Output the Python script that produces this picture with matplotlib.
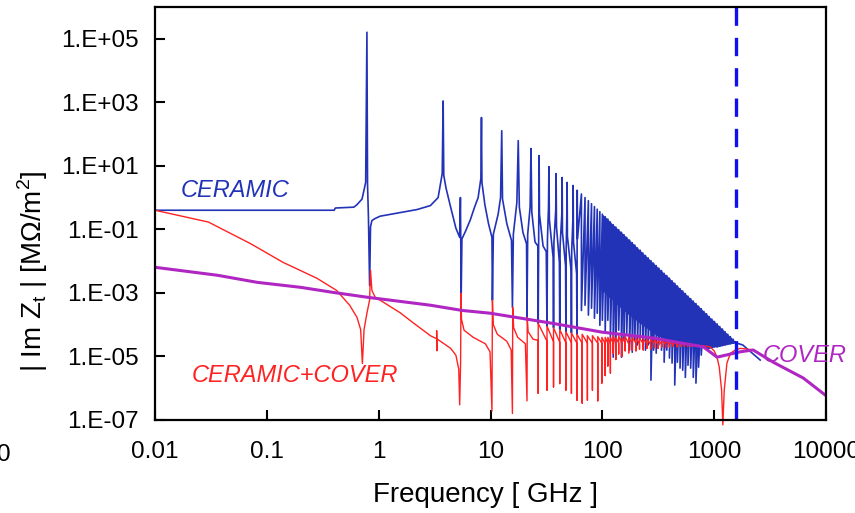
import matplotlib
matplotlib.use('Agg')
import matplotlib.pyplot as plt
import numpy as np
from matplotlib.ticker import FuncFormatter

plt.rcParams['font.family'] = ['Liberation Sans', 'DejaVu Sans']
plt.rcParams['mathtext.fontset'] = 'custom'
plt.rcParams['mathtext.rm'] = 'Liberation Sans'

# ---------------- CERAMIC (blue) ----------------
# resolved low frequency part: frequency [GHz], |Im Zt| [MOhm/m2]
blue_f = [0.01, 0.40, 0.41, 0.60, 0.64, 0.71, 0.765, 0.785, 0.795, 0.81, 0.83, 0.845, 0.87, 0.93,
          1.03, 1.5, 2.2, 2.9, 3.4, 3.7, 3.77, 3.82, 4.0, 4.4, 4.9, 5.3, 5.38, 5.42, 5.47, 5.55,
          6.0, 6.6, 7.2, 7.75, 8.2, 8.3, 8.38, 8.9, 9.6, 10.3, 10.4, 10.6, 11.7, 12.3, 12.6, 12.8,
          14.0, 15.4, 15.7, 16.0, 17.2, 17.7, 18.1, 19.5, 21.0, 21.2, 21.5, 22.6, 23.0, 23.4,
          25.0, 26.5, 26.7, 27.0, 27.2, 27.4, 29.5, 31.5, 32.0, 32.3, 33.0, 33.3, 33.6,
          36.3, 36.6, 36.9, 38.3, 38.6, 38.9, 41.3, 41.6, 41.9, 43.4, 43.7, 44.0,
          46.9, 47.2, 47.5, 48.1, 48.4, 48.7, 52.6, 52.9, 53.2, 54.5, 54.8, 55.2,
          58.9, 59.3, 59.6, 60.0]
blue_v = [0.40, 0.40, 0.47, 0.50, 0.60, 0.90, 3.0, 1.6e5, 2.5, 0.24, 1.7e-3, 0.12, 0.19, 0.22,
          0.26, 0.33, 0.42, 0.56, 1.0, 5.7, 1.1e3, 5.0, 2.0, 0.5, 0.11, 0.056, 1.0, 0.056, 9.7e-4, 0.05,
          0.09, 0.2, 0.5, 1.0, 4.0, 330, 3.0, 0.6, 0.15, 0.056, 5.9e-4, 0.07, 0.3, 1.0, 127, 0.9,
          0.15, 0.045, 3.5e-4, 0.07, 0.7, 62, 0.5, 0.08, 0.035, 1.7e-4, 0.07, 0.5, 35, 0.35,
          0.04, 0.03, 1.1e-4, 0.4, 21, 0.3, 0.03, 0.02, 9e-5, 0.05, 0.5, 9.4, 0.2,
          0.013, 8e-5, 0.04, 0.4, 5.7, 0.12, 0.009, 7e-5, 0.03, 0.3, 4.3, 0.08,
          0.007, 6e-5, 0.025, 0.25, 3.0, 0.06, 0.005, 5.5e-5, 0.02, 0.2, 2.4, 0.04,
          0.004, 5e-5, 1.7, 0.05]

# dense resonance region: resonance frequency, peak value, dip value,
# and lower edge of the visually solid band
dense_f = [65, 70, 75, 80, 85, 90, 95, 100, 106, 112, 118, 125, 132, 140, 148, 156, 165, 175,
           185, 195, 206, 218, 230, 243, 257, 272, 287, 303, 320, 338, 357, 377, 398, 420, 444,
           469, 495, 523, 552, 583, 616, 650, 687, 725, 766, 809, 854, 902, 953, 1006, 1063,
           1122, 1185, 1252, 1322, 1396, 1475, 1557]
dense_top = [1.3, 1.0, 0.80, 0.64, 0.52, 0.43, 0.36, 0.30, 0.25, 0.21, 0.17, 0.14, 0.118, 0.097,
             0.081, 0.068, 0.056, 0.046, 0.038, 0.032, 0.026, 0.022, 0.018, 0.015, 0.0126,
             0.0103, 0.0086, 0.0072, 0.0060, 0.0050, 0.0041, 0.0035, 0.0029, 0.0024, 0.0020,
             0.00165, 0.00137, 0.00115, 9.5e-4, 7.9e-4, 6.6e-4, 5.5e-4, 4.6e-4, 3.8e-4, 3.2e-4,
             2.6e-4, 2.2e-4, 1.8e-4, 1.5e-4, 1.26e-4, 1.05e-4, 8.7e-5, 7.3e-5, 6.0e-5, 5.0e-5,
             4.2e-5, 3.5e-5, 2.9e-5]
dense_low = [2.8e-4, 4.1e-4, 2.0e-4, 3.3e-4, 1.6e-4, 2.3e-4, 9.6e-5, 1.38e-4, 5.8e-5, 1.38e-4,
             3.8e-5, 9.5e-6, 2.6e-5, 6.7e-5, 9.5e-6, 3.3e-5, 4.7e-5, 1.58e-5, 1.36e-5, 3.3e-5,
             2.3e-5, 3.8e-5, 2.0e-5, 1.58e-5, 2.3e-5, 1.8e-6, 1.58e-5, 1.27e-5, 2.3e-5, 1.58e-5,
             6.6e-6, 1.58e-5, 8.9e-6, 6.2e-6, 1.26e-6, 6.6e-6, 4.3e-6, 3.7e-6, 2.2e-6, 5.3e-6,
             4.3e-6, 2.2e-6, 1.45e-6, 4.6e-6, 1.1e-5, 2.0e-5, 1.8e-5, 1.8e-5, 1.9e-5, 2.0e-5,
             2.0e-5, 2.1e-5, 2.2e-5, 2.3e-5, 2.4e-5, 2.5e-5, 2.6e-5, 2.7e-5]
dense_mid = [5.1e-3, 4.1e-3, 3.3e-3, 2.9e-3, 2.3e-3, 1.9e-3, 1.5e-3, 1.2e-3, 9.7e-4, 7.8e-4,
             6.8e-4, 5.9e-4, 4.7e-4, 3.8e-4, 3.3e-4, 2.8e-4, 2.3e-4, 2.0e-4, 1.7e-4, 1.5e-4,
             1.28e-4, 1.1e-4, 9.6e-5, 8.3e-5, 7.2e-5, 6.2e-5, 5.4e-5, 4.7e-5, 4.3e-5, 4.0e-5,
             3.8e-5, 3.5e-5, 3.3e-5, 3.0e-5, 2.8e-5, 2.6e-5, 2.6e-5, 2.4e-5, 2.4e-5, 2.3e-5,
             2.3e-5, 2.1e-5, 2.1e-5, 2.0e-5, 2.0e-5, 2.0e-5, 1.8e-5, 1.8e-5, 1.9e-5, 2.0e-5,
             2.0e-5, 2.1e-5, 2.2e-5, 2.3e-5, 2.4e-5, 2.5e-5, 2.6e-5, 2.7e-5]
blue_tail_f = [1800, 2580]
blue_tail_v = [2.3e-5, 7.7e-6]

# ---------------- CERAMIC+COVER (red) ----------------
red_f = [0.01, 0.03, 0.071, 0.14, 0.28, 0.42, 0.55, 0.64, 0.69, 0.715, 0.74, 0.785, 0.83, 0.845,
         0.87, 0.93, 1.03, 1.55, 2.0, 2.9, 3.3, 3.3, 3.32, 3.35, 4.4, 4.9, 5.2, 5.3, 5.4, 5.45,
         5.5, 5.8, 7.0, 9.0, 9.9, 10.3, 10.4, 10.6, 11.5, 14.0, 15.3, 15.7, 15.8, 16.1, 17.5,
         20.5, 21.2, 21.3, 21.7, 24.0]
red_v = [0.40, 0.17, 0.036, 0.0091, 0.0029, 0.0012, 4.1e-4, 1.7e-4, 7e-5, 6e-6, 7e-5, 2.3e-4,
         6e-4, 5.2e-3, 1.2e-3, 7.3e-4, 5.9e-4, 2.4e-4, 1.2e-4, 4.5e-5, 3.6e-5, 6.5e-5, 1.5e-5,
         3.5e-5, 1.8e-5, 1.1e-5, 4e-6, 3e-7, 6e-6, 9.7e-4, 1.5e-4, 6.7e-5, 4e-5, 2.5e-5, 1.4e-5,
         1.9e-7, 5.9e-4, 1e-4, 5e-5, 3e-5, 1.6e-5, 1.6e-7, 3.5e-4, 8e-5, 4e-5, 2.5e-5, 4e-7,
         1.7e-4, 6e-5, 3.5e-5]

# anti-resonances: frequency, level before, dip, spike top
anti_f = [26.7, 32.0, 36.6, 41.6, 47.2, 52.9, 59.3, 66, 73.5, 81.5, 91, 99, 106, 112, 118, 125,
          132, 140, 150, 160, 172, 185, 200, 215, 232, 250, 270, 292, 315, 340, 368, 398, 430,
          465, 500, 540, 580, 620]
anti_base = [3.2e-5, 3.0e-5, 2.9e-5, 2.8e-5, 2.7e-5, 2.7e-5, 2.6e-5, 2.6e-5, 2.6e-5, 2.6e-5,
             2.6e-5, 2.6e-5, 2.5e-5, 2.6e-5, 2.5e-5, 2.6e-5, 2.5e-5, 2.6e-5, 2.5e-5, 2.6e-5,
             2.5e-5, 2.5e-5, 2.6e-5, 2.5e-5, 2.5e-5, 2.5e-5, 2.4e-5, 2.5e-5, 2.4e-5, 2.4e-5,
             2.4e-5, 2.4e-5, 2.3e-5, 2.4e-5, 2.3e-5, 2.3e-5, 2.3e-5, 2.3e-5]
anti_dip = [6.9e-7, 8.7e-7, 1.1e-6, 1.4e-6, 8.7e-7, 6.9e-7, 4.2e-7, 3.4e-7, 4.2e-7, 8.7e-7,
            4e-7, 1.45e-6, 2.5e-6, 5e-6, 3e-6, 1.27e-5, 8e-6, 1.2e-5, 1e-5, 1.5e-5, 1.3e-5,
            1.6e-5, 1.5e-5, 1.7e-5, 1.6e-5, 1.8e-5, 1.7e-5, 1.9e-5, 1.8e-5, 2.0e-5, 1.9e-5,
            2.0e-5, 2.1e-5, 2.0e-5, 2.1e-5, 2.1e-5, 2.1e-5, 2.1e-5]
anti_top = [1.1e-4, 9e-5, 8e-5, 7e-5, 6e-5, 5.5e-5, 5e-5, 5e-5, 4.5e-5, 4.5e-5, 4.2e-5, 4e-5,
            4e-5, 4e-5, 4e-5, 4.5e-5, 4e-5, 4.5e-5, 4e-5, 4.2e-5, 4e-5, 4e-5, 3.8e-5, 3.8e-5,
            3.6e-5, 3.6e-5, 3.5e-5, 3.4e-5, 3.3e-5, 3.2e-5, 3.1e-5, 3.0e-5, 2.9e-5, 2.8e-5,
            2.7e-5, 2.6e-5, 2.5e-5, 2.4e-5]
red_tail_f = [650, 750, 850, 920, 1000, 1060, 1110, 1165, 1195, 1230, 1300, 1400, 1550, 1710,
              1970, 2230, 3370, 6250, 9840]
red_tail_v = [2.3e-5, 2.2e-5, 2.1e-5, 2.0e-5, 1.5e-5, 9.5e-6, 4.6e-6, 8.7e-7, 7e-8, 8.7e-7,
              6.2e-6, 1.27e-5, 1.6e-5, 1.8e-5, 1.7e-5, 1.6e-5, 6.6e-6, 2.1e-6, 6.1e-7]

# ---------------- COVER (magenta) ----------------
cover_f = [0.01, 0.036, 0.082, 0.2, 0.39, 0.79, 2.9, 5.6, 9.9, 36, 100, 285, 800, 1060, 1710,
           2230, 3370, 6250, 9840]
cover_v = [6.4e-3, 3.6e-3, 2.15e-3, 1.5e-3, 1.04e-3, 7.3e-4, 4.1e-4, 2.8e-4, 2.3e-4, 1.1e-4,
           5.8e-5, 3.8e-5, 2.0e-5, 9.5e-6, 1.4e-5, 1.6e-5, 6.6e-6, 2.1e-6, 6.1e-7]

# cut-off frequency marker
cutoff_ghz = 1570

x_ticks = [0.01, 0.1, 1, 10, 100, 1000, 10000]
x_labels = ['0.01', '0.1', '1', '10', '100', '1000', '10000']
y_ticks = [1e-7, 1e-5, 1e-3, 1e-1, 1e1, 1e3, 1e5]

blue_color = '#2233b8'
red_color = '#ff2222'
cover_color = '#b026c2'

# Join the pieces of each curve
blue_x = np.concatenate([blue_f, np.repeat(dense_f, 2), blue_tail_f])
blue_y = np.concatenate([blue_v, np.column_stack([dense_top, dense_low]).ravel(), blue_tail_v])
red_x = np.concatenate([red_f, np.repeat(anti_f, 3), red_tail_f])
red_y = np.concatenate([red_v, np.column_stack([anti_base, anti_dip, anti_top]).ravel(), red_tail_v])

fig = plt.figure(figsize=(8.55, 5.13), dpi=100)
ax = fig.add_axes([0.1813, 0.1813, 0.7848, 0.8051])

ax.plot(blue_x, blue_y, color=blue_color, lw=1.2)
# unresolved oscillations above 100 GHz look like a solid band
ax.fill_between(dense_f[7:], dense_mid[7:], dense_top[7:], color=blue_color, lw=0)
ax.plot(red_x, red_y, color=red_color, lw=1.0, clip_on=False)
ax.plot(cover_f, cover_v, color=cover_color, lw=2.2)
# dashed line drawn top to bottom so the dash pattern starts at the top
ax.plot([cutoff_ghz, cutoff_ghz], [1e6, 1e-7], color='#1010ee', lw=2.4, dashes=(5.5, 3.6))

ax.set_xscale('log')
ax.set_yscale('log')
ax.set_xlim(0.01, 10000)
ax.set_ylim(1e-7, 1e6)
ax.set_xticks(x_ticks, x_labels)
ax.set_yticks(y_ticks)
ax.yaxis.set_major_formatter(FuncFormatter(lambda v, pos: '1.E%+03d' % round(np.log10(v))))
ax.minorticks_off()
ax.tick_params(direction='in', length=7, width=1.5, labelsize=17.5, pad=12,
               top=False, right=False)
ax.tick_params(axis='x', pad=15)
for s in ax.spines.values():
    s.set_linewidth(1.6)

ax.set_xlabel('Frequency [ GHz ]', fontsize=20)
ax.xaxis.set_label_coords(0.493, -0.15)
ax.set_ylabel(r'| Im Z$_\mathregular{t}$ | [M$\Omega$/m$^\mathregular{2}$]', fontsize=20)
ax.yaxis.set_label_coords(-0.156, 0.361)

# Curve labels
ax.text(0.0168, 1.66, 'CERAMIC', color=blue_color, fontsize=17, style='italic', ha='left', va='center')
ax.text(0.0214, 2.6e-6, 'CERAMIC+COVER', color=red_color, fontsize=17, style='italic',
        ha='left', va='center')
ax.text(2690, 1.1e-5, 'COVER', color=cover_color, fontsize=17, style='italic', ha='left', va='center')

# clipped leftover label at the left edge
fig.text(0.013, 0.113, '0', fontsize=17.5, ha='right', va='center')

plt.savefig('out.png', dpi=100)
plt.close()
